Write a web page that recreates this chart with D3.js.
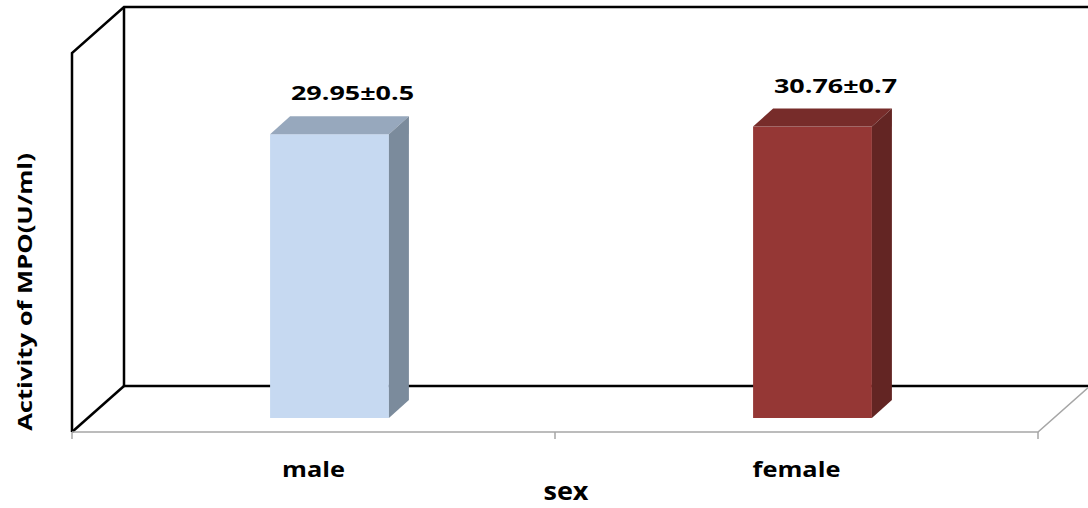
<!DOCTYPE html>
<html>
<head>
<meta charset="utf-8">
<script src="https://cdn.jsdelivr.net/npm/d3@7"></script>
<style>
  body { margin: 0; background: #fff; }
  text { font-family: "Open Sans", Lato, sans-serif; font-weight: bold; fill: #000; }
</style>
</head>
<body>
<svg id="chart" width="1088" height="508"></svg>
<script>
// data
var categories = ["male", "female"];
var values = [29.95, 30.76];
var errors = ["0.5", "0.7"];
var valueLabels = ["29.95", "30.76"];
var frontColors = ["#c6d9f1", "#953735"];
var topColors = ["#97a8bd", "#772c2a"];
var sideColors = ["#7b8b9c", "#632523"];

var svg = d3.select('#chart');

// floor front edge and wall height
var x0 = 72, x1 = 1038, floorY = 432, wallH = 379;
// 3d depth of the whole plot box
var depthX = 52, depthY = -46;
// bars sit mid-depth
var barDX = 20, barDY = -18;
var barOffX = (depthX - barDX) / 2, barOffY = (depthY - barDY) / 2;

var x = d3.scaleBand().domain(categories).range([x0, x1]).paddingInner(0).paddingOuter(0);
var y = d3.scaleLinear().domain([0, 40]).range([0, wallH]);
var barW = x.bandwidth() * 0.246;

// stretch text along its baseline (the picture's text is wide)
var stretch = function(sel, k){
    sel.each(function(){
        var w = this.getComputedTextLength();
        d3.select(this).attr('textLength', w * k).attr('lengthAdjust', 'spacingAndGlyphs');
    });
};

// back wall + left wall
var bx0 = x0 + depthX, by0 = floorY + depthY;
svg.append('path')
    .attr('d', 'M' + x0 + ',' + floorY + 'L' + x0 + ',' + (floorY - wallH) +
        'L' + bx0 + ',' + (by0 - wallH) + 'L' + 1090 + ',' + (by0 - wallH))
    .attr('fill', 'none').attr('stroke', '#000').attr('stroke-width', 2.5);
svg.append('path')
    .attr('d', 'M' + bx0 + ',' + (by0 - wallH) + 'L' + bx0 + ',' + by0 + 'L' + 1090 + ',' + by0)
    .attr('fill', 'none').attr('stroke', '#000').attr('stroke-width', 2.5);
svg.append('line')
    .attr('x1', x0).attr('y1', floorY).attr('x2', bx0).attr('y2', by0)
    .attr('stroke', '#000').attr('stroke-width', 2.5);

// floor front + right edge (grey)
svg.append('path')
    .attr('d', 'M' + x0 + ',' + floorY + 'L' + x1 + ',' + floorY + 'L' + (x1 + depthX) + ',' + (floorY + depthY))
    .attr('fill', 'none').attr('stroke', '#a6a6a6').attr('stroke-width', 1.5);

// ticks on category axis
var tickXs = [x0].concat(categories.map(function(c){ return x(c) + x.bandwidth(); }));
svg.selectAll('line.tick')
    .data(tickXs)
    .enter().append('line')
    .attr('class', 'tick')
    .attr('x1', function(d){ return d; }).attr('x2', function(d){ return d; })
    .attr('y1', floorY).attr('y2', floorY + 7)
    .attr('stroke', '#a6a6a6').attr('stroke-width', 1.5);

// bars
svg.selectAll('g.bar')
    .data(categories)
    .enter().append('g')
    .attr('class', 'bar')
    .each(function(c, i){
        var g = d3.select(this);
        var fx = x(c) + (x.bandwidth() - barW) / 2 + barOffX;
        var fy = floorY + barOffY;
        var h = y(values[i]);
        var top = fy - h;
        // front
        g.append('rect')
            .attr('x', fx).attr('y', top).attr('width', barW).attr('height', h)
            .attr('fill', frontColors[i]);
        // top
        g.append('path')
            .attr('d', 'M' + fx + ',' + top + 'L' + (fx + barDX) + ',' + (top + barDY) +
                'L' + (fx + barW + barDX) + ',' + (top + barDY) + 'L' + (fx + barW) + ',' + top + 'Z')
            .attr('fill', topColors[i]);
        // side
        g.append('path')
            .attr('d', 'M' + (fx + barW) + ',' + top + 'L' + (fx + barW + barDX) + ',' + (top + barDY) +
                'L' + (fx + barW + barDX) + ',' + (fy + barDY) + 'L' + (fx + barW) + ',' + fy + 'Z')
            .attr('fill', sideColors[i]);
        // value label
        g.append('text')
            .attr('class', 'val')
            .attr('x', fx + barW / 2 + 23)
            .attr('y', top + barDY - 16)
            .attr('text-anchor', 'middle')
            .attr('font-size', '19.5px')
            .text(valueLabels[i] + '\u00b1' + errors[i]);
    });
stretch(svg.selectAll('text.val'), 1.38);

// category labels
svg.selectAll('text.cat')
    .data(categories)
    .enter().append('text')
    .attr('class', 'cat')
    .attr('x', function(c){ return x(c) + x.bandwidth() / 2; })
    .attr('y', 477)
    .attr('text-anchor', 'middle')
    .attr('font-size', '21.5px')
    .text(function(c){ return c; })
    .call(stretch, 1.18);

// axis titles
svg.append('text')
    .attr('x', 566).attr('y', 500)
    .attr('text-anchor', 'middle')
    .attr('font-size', '25px')
    .text('sex')
    .call(stretch, 1.08);

svg.append('text')
    .attr('transform', 'translate(32,292) rotate(-90)')
    .attr('text-anchor', 'middle')
    .attr('font-size', '20px')
    .text('Activity of MPO(U/ml)')
    .call(stretch, 1.28);
</script>
</body>
</html>
